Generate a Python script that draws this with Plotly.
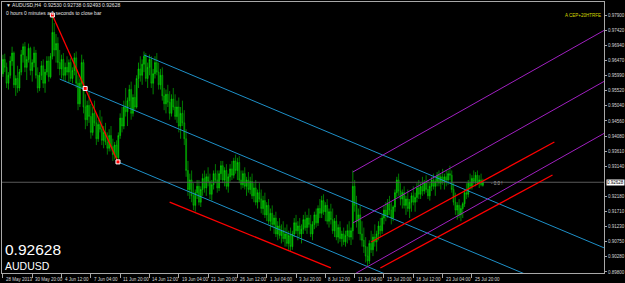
import plotly.graph_objects as go

# ---------------- data (price in 1e-4 units) ----------------
opens = [9605,9650,9625,9575,9600,9645,9670,9570,9590,9560,
 9610,9665,9690,9625,9650,9685,9615,9640,9670,9600,
 9560,9600,9630,9575,9610,9645,9595,9660,9735,9680,
 9700,9640,9620,9650,9600,9625,9610,9640,9590,9615,
 9655,9575,9510,9575,9640,9500,9460,9505,9470,9420,
 9480,9450,9400,9445,9430,9395,9420,9390,9370,9410,
 9375,9350,9380,9340,9410,9465,9440,9500,9485,9520,
 9555,9480,9530,9500,9590,9620,9600,9635,9660,9590,
 9625,9650,9575,9605,9640,9610,9570,9600,9535,9510,
 9540,9515,9480,9525,9500,9470,9500,9440,9480,9450,
 9400,9300,9240,9270,9220,9190,9230,9250,9200,9240,
 9275,9245,9280,9265,9225,9255,9290,9270,9245,9290,
 9315,9270,9300,9250,9280,9305,9285,9330,9300,9325,
 9270,9255,9290,9250,9270,9240,9265,9220,9245,9200,
 9230,9210,9180,9205,9160,9190,9140,9165,9130,9150,
 9100,9125,9095,9110,9085,9100,9070,9095,9060,9100,
 9135,9110,9125,9100,9115,9145,9120,9150,9130,9100,
 9130,9160,9135,9180,9165,9205,9170,9190,9140,9170,
 9145,9110,9140,9090,9120,9085,9100,9075,9095,9110,
 9090,9110,9250,9190,9140,9160,9100,9080,9060,9030,
 9015,9070,9050,9090,9075,9100,9125,9110,9150,9175,
 9160,9195,9175,9150,9185,9230,9270,9235,9210,9230,
 9190,9210,9180,9200,9220,9200,9215,9245,9225,9250,
 9235,9260,9240,9220,9250,9270,9250,9265,9285,9260,
 9280,9265,9280,9270,9290,9285,9240,9200,9175,9190,
 9160,9180,9195,9230,9225,9260,9250,9275,9265,9285,
 9260,9270,9253.0]
highs = [9665,9668,9640,9610,9660,9690,9675,9600,9630,9620,
 9680,9700,9705,9660,9700,9690,9650,9690,9680,9625,
 9610,9645,9650,9620,9660,9660,9670,9790,9765,9730,
 9720,9680,9665,9670,9640,9660,9650,9655,9625,9670,
 9675,9600,9590,9665,9650,9540,9520,9550,9510,9500,
 9520,9480,9460,9490,9470,9440,9450,9420,9430,9440,
 9400,9390,9395,9420,9480,9500,9520,9560,9530,9570,
 9580,9540,9570,9600,9640,9660,9650,9675,9670,9640,
 9665,9660,9620,9660,9670,9640,9620,9625,9560,9555,
 9570,9550,9540,9560,9540,9520,9530,9500,9520,9490,
 9430,9330,9290,9300,9260,9240,9270,9270,9250,9290,
 9300,9290,9310,9290,9270,9300,9320,9300,9300,9330,
 9330,9310,9320,9290,9320,9330,9340,9350,9340,9345,
 9300,9300,9310,9280,9295,9280,9290,9260,9270,9240,
 9260,9240,9220,9230,9200,9210,9180,9190,9160,9170,
 9140,9150,9130,9140,9120,9130,9110,9120,9110,9150,
 9160,9140,9150,9130,9160,9170,9160,9180,9160,9140,
 9170,9180,9190,9210,9220,9225,9200,9210,9180,9195,
 9180,9150,9160,9130,9140,9110,9120,9110,9130,9140,
 9120,9300,9270,9220,9180,9190,9140,9120,9090,9060,
 9080,9110,9100,9130,9110,9140,9150,9160,9190,9200,
 9210,9220,9200,9190,9240,9280,9290,9260,9240,9250,
 9220,9240,9210,9230,9250,9230,9260,9270,9260,9280,
 9270,9285,9270,9260,9280,9290,9275,9295,9300,9290,
 9305,9290,9300,9300,9315,9300,9260,9230,9200,9210,
 9190,9200,9240,9260,9270,9290,9285,9300,9295,9300,
 9285,9290,9273.8]
lows = [9595,9610,9560,9555,9590,9630,9560,9535,9545,9550,
 9600,9640,9610,9585,9640,9600,9580,9625,9590,9545,
 9550,9585,9560,9545,9600,9580,9590,9650,9660,9640,
 9620,9600,9590,9585,9580,9600,9575,9580,9575,9600,
 9560,9490,9500,9560,9480,9430,9440,9450,9400,9410,
 9440,9380,9390,9420,9380,9370,9380,9350,9360,9360,
 9330,9335,9325,9335,9400,9420,9430,9470,9440,9500,
 9460,9470,9490,9495,9560,9580,9570,9610,9580,9560,
 9600,9560,9540,9590,9600,9555,9555,9520,9490,9480,
 9500,9460,9470,9490,9460,9450,9420,9400,9440,9380,
 9280,9220,9210,9200,9175,9170,9210,9190,9185,9220,
 9230,9220,9250,9210,9205,9240,9260,9230,9235,9270,
 9260,9250,9240,9230,9265,9270,9275,9290,9270,9260,
 9240,9245,9240,9220,9230,9225,9210,9200,9190,9180,
 9200,9165,9160,9150,9140,9130,9110,9120,9100,9090,
 9080,9085,9070,9075,9060,9060,9050,9045,9050,9090,
 9100,9080,9090,9070,9100,9110,9100,9120,9090,9080,
 9115,9120,9125,9150,9150,9160,9140,9130,9120,9130,
 9100,9090,9080,9070,9075,9060,9065,9060,9070,9080,
 9065,9082,9170,9120,9100,9080,9060,9040,9010,8995,
 9005,9040,9030,9060,9045,9080,9090,9100,9130,9140,
 9150,9160,9130,9140,9170,9215,9220,9190,9180,9180,
 9160,9170,9150,9170,9190,9170,9200,9210,9210,9220,
 9225,9230,9210,9205,9235,9240,9220,9250,9250,9240,
 9255,9240,9250,9255,9270,9230,9190,9160,9145,9150,
 9140,9150,9185,9210,9215,9240,9240,9255,9250,9255,
 9245,9250,9249.3]
closes = [9650,9625,9575,9600,9645,9670,9570,9590,9560,9610,
 9665,9690,9625,9650,9685,9615,9640,9670,9600,9560,
 9600,9630,9575,9610,9645,9595,9660,9735,9680,9700,
 9640,9620,9650,9600,9625,9610,9640,9590,9615,9655,
 9575,9510,9575,9640,9500,9460,9505,9470,9420,9480,
 9450,9400,9445,9430,9395,9420,9390,9370,9410,9375,
 9350,9380,9340,9410,9465,9440,9500,9485,9520,9555,
 9480,9530,9500,9590,9620,9600,9635,9660,9590,9625,
 9650,9575,9605,9640,9610,9570,9600,9535,9510,9540,
 9515,9480,9525,9500,9470,9500,9440,9480,9450,9400,
 9300,9240,9270,9220,9190,9230,9250,9200,9240,9275,
 9245,9280,9265,9225,9255,9290,9270,9245,9290,9315,
 9270,9300,9250,9280,9305,9285,9330,9300,9325,9270,
 9255,9290,9250,9270,9240,9265,9220,9245,9200,9230,
 9210,9180,9205,9160,9190,9140,9165,9130,9150,9100,
 9125,9095,9110,9085,9100,9070,9095,9060,9100,9135,
 9110,9125,9100,9115,9145,9120,9150,9130,9100,9130,
 9160,9135,9180,9165,9205,9170,9190,9140,9170,9145,
 9110,9140,9090,9120,9085,9100,9075,9095,9110,9090,
 9110,9250,9190,9140,9160,9100,9080,9060,9030,9015,
 9070,9050,9090,9075,9100,9125,9110,9150,9175,9160,
 9195,9175,9150,9185,9230,9270,9235,9210,9230,9190,
 9210,9180,9200,9220,9200,9215,9245,9225,9250,9235,
 9260,9240,9220,9250,9270,9250,9265,9285,9260,9280,
 9265,9280,9270,9290,9285,9240,9200,9175,9190,9160,
 9180,9195,9230,9225,9260,9250,9275,9265,9285,9260,
 9270,9255,9262.8]

x_tick_idx = [0,16,32,48,64,80,96,112,128,144,160,176,192,208,224,240,256]
x_tick_labels = ["28 May 2013","30 May 20:00","4 Jun 12:00","7 Jun 04:00","11 Jun 20:00",
 "14 Jun 12:00","19 Jun 04:00","21 Jun 20:00","26 Jun 12:00","1 Jul 04:00","3 Jul 20:00",
 "8 Jul 12:00","11 Jul 04:00","15 Jul 20:00","18 Jul 12:00","23 Jul 04:00","25 Jul 20:00"]
y_ticks = [0.97900,0.97420,0.96940,0.96470,0.95990,0.95520,0.95040,0.94560,0.94080,
 0.93610,0.93140,0.92180,0.91710,0.91230,0.90750,0.90280,0.89800]
last_price = 0.92628

# drawn objects: (bar index, price) endpoints
red_trend_x = [27, 62.8]
red_trend_y = [0.9790, 0.9327]
fork_median_x = [31, 329]
fork_median_y = [0.9588, 0.8867]
fork_upper_x = [77, 329]
fork_upper_y = [0.9664, 0.9054]
fork_lower_x = [62.8, 329]
fork_lower_y = [0.9327, 0.8682]
purple_up_x = [191, 329]
purple_up_y = [0.92952, 0.97443]
purple_mid_x = [191, 329]
purple_mid_y = [0.91344, 0.95836]
purple_low_x = [191, 329]
purple_low_y = [0.89705, 0.94197]
red_up_x = [201, 301]
red_up_y = [0.90745, 0.93897]
red_low_x = [206, 300]
red_low_y = [0.89926, 0.92857]
red_sup_x = [91, 179]
red_sup_y = [0.9200, 0.8993]

# ---------------- figure ----------------
S = 1e-4
xs = list(range(len(closes)))
fig = go.Figure()
fig.add_trace(go.Candlestick(
    x=xs, open=[v*S for v in opens], high=[v*S for v in highs],
    low=[v*S for v in lows], close=[v*S for v in closes],
    increasing=dict(line=dict(color="#00e600", width=0.6), fillcolor="#008c00"),
    decreasing=dict(line=dict(color="#00c800", width=0.6), fillcolor="#005a00"),
    whiskerwidth=0, hoverinfo="skip"))

def seg(xv, yv, color, width=1, dash=None):
    fig.add_trace(go.Scatter(x=xv, y=yv, mode="lines",
                             line=dict(color=color, width=width, dash=dash),
                             hoverinfo="skip"))

seg([-1, 330], [last_price, last_price], "#5a5a5a")
seg(fork_median_x, fork_median_y, "#1e90c8")
seg(fork_upper_x, fork_upper_y, "#1e90c8")
seg(fork_lower_x, fork_lower_y, "#1e90c8")
seg(purple_up_x, purple_up_y, "#a020c0")
seg(purple_mid_x, purple_mid_y, "#a020c0")
seg(purple_low_x, purple_low_y, "#a020c0")
seg(red_up_x, red_up_y, "#ff0000", 1.3)
seg(red_low_x, red_low_y, "#ff0000", 1.3)
seg(red_sup_x, red_sup_y, "#ff0000", 1.3)
seg(red_trend_x, red_trend_y, "#ff0000", 1.3)
fig.add_trace(go.Scatter(
    x=[red_trend_x[0], (red_trend_x[0]+red_trend_x[1])/2, red_trend_x[1]],
    y=[red_trend_y[0], (red_trend_y[0]+red_trend_y[1])/2, red_trend_y[1]],
    mode="markers", marker=dict(symbol="square", size=4, color="#ff0000",
                                line=dict(color="white", width=1)),
    hoverinfo="skip"))

L, R, T, B = 2, 604, 2, 273
W, H = 625, 283
def px(xp): return (xp - L) / (R - L)
def py(yp): return (B - yp) / (B - T)

ann = []
for i, lab in zip(x_tick_idx, x_tick_labels):
    ann.append(dict(x=i, xref="x", y=py(279), yref="paper", text=lab, showarrow=False,
                    xanchor="left", yanchor="middle", xshift=1,
                    font=dict(size=4.5, color="#d8d8d8", family="Liberation Sans")))
ann += [
    dict(x=px(4), y=py(5), text="▼ AUDUSD,H4  0.92530 0.92738 0.92493 0.92628",
         font=dict(size=5, color="#e0e0e0", family="Liberation Sans")),
    dict(x=px(4), y=py(12.5), text="0 hours 0 minutes a 1 seconds to close bar",
         font=dict(size=5, color="#e0e0e0", family="Liberation Sans")),
    dict(x=px(3), y=py(249), text="0.92628",
         font=dict(size=15.5, color="white", family="Liberation Sans")),
    dict(x=px(3), y=py(266), text="AUDUSD",
         font=dict(size=10.5, color="white", family="Liberation Sans")),
    dict(x=px(563), y=py(15), text="A CEP+20HTRFE",
         font=dict(size=4.5, color="#d8d800", family="Liberation Sans")),
    dict(x=px(489), y=py(183), text="- 0.0 !",
         font=dict(size=4.5, color="#b0b0b0", family="Liberation Sans")),
    dict(x=px(606), y=py(182), text="0.92628", bgcolor="white",
         font=dict(size=4.5, color="black", family="Liberation Sans"), borderpad=0),
]
for a in ann:
    a.setdefault("xref", "paper"); a.setdefault("yref", "paper")
    a.setdefault("showarrow", False); a.setdefault("xanchor", "left")
    a.setdefault("yanchor", "middle")

fig.update_layout(
    width=W, height=H, template="none",
    margin=dict(l=L, r=W - R, t=T, b=H - B, autoexpand=False),
    paper_bgcolor="black", plot_bgcolor="black", showlegend=False,
    annotations=ann,
    xaxis=dict(range=[-0.5, 328.1], showgrid=False, zeroline=False,
               rangeslider=dict(visible=False), showline=True, mirror=True,
               linecolor="#a8a8a8", linewidth=1, tickvals=x_tick_idx,
               showticklabels=False, ticks="outside", ticklen=4, tickcolor="#a8a8a8"),
    yaxis=dict(range=[0.89768, 0.98310], side="right", showgrid=False, zeroline=False,
               showline=True, mirror=True, linecolor="#a8a8a8", linewidth=1,
               tickvals=y_ticks, ticktext=["%.5f" % v for v in y_ticks],
               ticks="outside", ticklen=2, tickcolor="#a8a8a8",
               tickfont=dict(size=4.5, color="#d8d8d8", family="Liberation Sans")),
)
fig.write_html("out.html")
